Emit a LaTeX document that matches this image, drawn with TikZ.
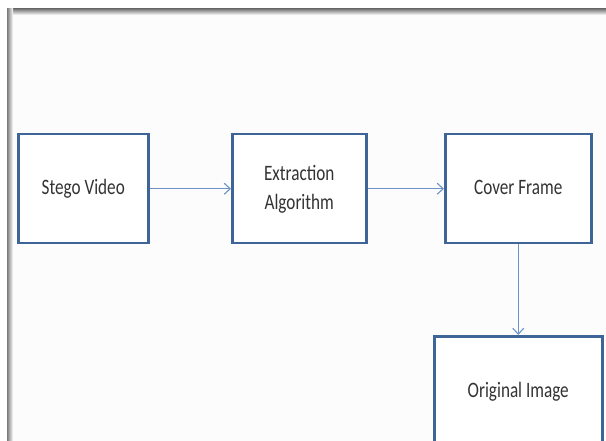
\documentclass[tikz,border=0pt]{standalone}
\usepackage{fontspec}
\setmainfont{Carlito}
\usetikzlibrary{arrows.meta}
\definecolor{boxline}{HTML}{3F6497}
\definecolor{linkline}{HTML}{6C93C8}
\definecolor{txt}{HTML}{333333}
\definecolor{shadowgray}{HTML}{7A7A7A}
\newcommand{\lbl}[1]{\scalebox{0.78}[1]{\begin{tabular}{@{}c@{}}#1\end{tabular}}}
\tikzset{
  stage/.style={draw=boxline, line width=2.5pt, fill=white, inner sep=0pt,
    text=txt, font=\fontsize{22}{29}\selectfont, anchor=north west},
  link/.style={draw=linkline, line width=1.1pt,
    -{Straight Barb[length=6pt,width=11pt,line width=1.1pt]}}
}
\begin{document}
\begin{tikzpicture}[x=1pt,y=-1pt]
  \useasboundingbox (0,0) rectangle (606,441);
  % page with soft shadow along its top and left edges
  \fill[white] (0,0) rectangle (606,441);
  \fill[white!99!black] (7,9) rectangle (606,441);
  \shade[top color=shadowgray, bottom color=white!99!black] (7,9) rectangle (606,15);
  \shade[left color=shadowgray, right color=white!99!black] (7,9) rectangle (13,441);

  % process stages
  \node[stage, minimum width=130pt, minimum height=109pt] (stego) at (17,133) {\lbl{Stego Video}};
  \node[stage, minimum width=134pt, minimum height=109pt] (extract) at (231,133) {\raisebox{-2pt}{\lbl{Extraction\\Algorithm}}};
  \node[stage, minimum width=146pt, minimum height=109pt] (cover) at (444,133) {\lbl{Cover Frame}};
  \node[stage, minimum width=168pt, minimum height=110pt] (orig) at (433,335) {\lbl{Original Image}};

  % connectors
  \draw[link] (stego.east) -- (extract.west);
  \draw[link] (extract.east) -- (cover.west);
  \draw[link] (cover.south) -- (orig.north);
\end{tikzpicture}
\end{document}
